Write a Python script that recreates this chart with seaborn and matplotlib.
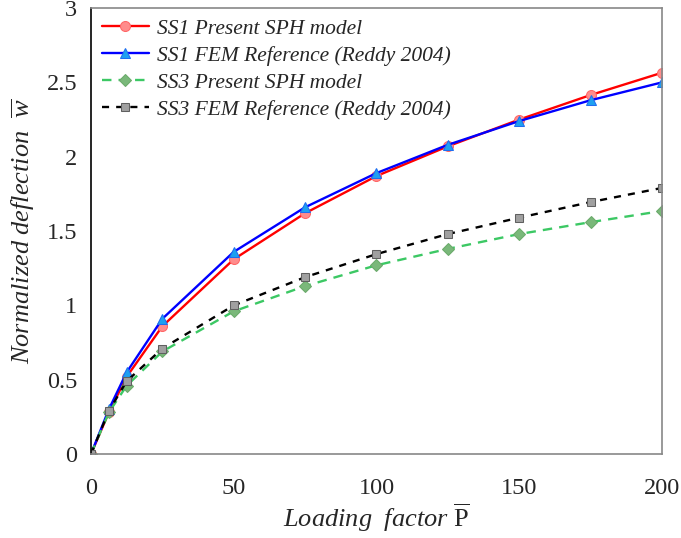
import matplotlib
matplotlib.use("Agg")
import matplotlib.pyplot as plt
import seaborn as sns

load = [0, 6.25, 12.5, 25, 50, 75, 100, 125, 150, 175, 200]
ss1_sph = [0, 0.28, 0.52, 0.86, 1.31, 1.62, 1.87, 2.07, 2.25, 2.415, 2.565]
ss1_fem = [0, 0.30, 0.55, 0.91, 1.36, 1.66, 1.89, 2.08, 2.24, 2.38, 2.50]
ss3_sph = [0, 0.28, 0.46, 0.69, 0.96, 1.13, 1.27, 1.38, 1.48, 1.56, 1.635]
ss3_fem = [0, 0.29, 0.49, 0.71, 1.00, 1.19, 1.345, 1.48, 1.59, 1.695, 1.79]

sns.set_style("white")
plt.rcParams['font.family'] = ['Liberation Serif', 'DejaVu Serif']
plt.rcParams['mathtext.fontset'] = 'custom'
plt.rcParams['mathtext.rm'] = 'Liberation Serif'
plt.rcParams['mathtext.it'] = 'Liberation Serif:italic'

fig = plt.figure(figsize=(6.81, 5.38), dpi=100)
ax = fig.add_axes([0.1336, 0.156, 0.8384, 0.829])

sns.lineplot(x=load, y=ss1_sph, ax=ax, color='red', lw=1.7, marker='o', markersize=7.2,
             markerfacecolor='#ff8c8c', markeredgecolor='#ff6666',
             label='SS1 Present SPH model')
sns.lineplot(x=load, y=ss1_fem, ax=ax, color='blue', lw=1.7, marker='^', markersize=7,
             markerfacecolor='#1ea0f0', markeredgecolor='#1e6ef0',
             label='SS1 FEM Reference (Reddy 2004)')
sns.lineplot(x=load, y=ss3_sph, ax=ax, color='#3cc864', lw=1.7, marker='D', markersize=5.8,
             markerfacecolor='#7ab87a', markeredgecolor='#6aaa6a', linestyle=(0, (4, 3)),
             label='SS3 Present SPH model')
sns.lineplot(x=load, y=ss3_fem, ax=ax, color='black', lw=1.7, marker='s', markersize=6.3,
             markerfacecolor='#a0a0a0', markeredgecolor='#606060', linestyle=(0, (3, 3)),
             label='SS3 FEM Reference (Reddy 2004)')

ax.set_xlim(0, 200)
ax.set_ylim(0, 3)
ax.set_xticks([0, 50, 100, 150, 200])
ax.set_yticks([0, 0.5, 1, 1.5, 2, 2.5, 3])
ax.set_yticklabels(['0', '0.5', '1', '1.5', '2', '2.5', '3'])
ax.tick_params(axis='both', labelsize=17.5, direction='out', length=4, width=1,
               color='#b0b0b0')
ax.tick_params(axis='x', pad=13)
ax.tick_params(axis='y', pad=6)

for s in ['top', 'right', 'bottom']:
    ax.spines[s].set_color('#888888')
    ax.spines[s].set_linewidth(1.2)
ax.spines['left'].set_color('black')
ax.spines['left'].set_linewidth(1.2)

ax.set_xlabel(r'$\mathit{Loading\ \ factor}\ \overline{\mathrm{P}}$', fontsize=19, labelpad=2)
ax.set_ylabel(r'$\mathit{Normalized\ deflection}\ \ \overline{w}$', fontsize=19, labelpad=7)

ax.legend(loc='upper left', frameon=False, prop={'family': 'Liberation Serif', 'style': 'italic', 'size': 15.5},
          handlelength=2.2, labelspacing=0.32, borderaxespad=0.2, handletextpad=0.35,
          borderpad=0.3)

fig.savefig('out.png', dpi=100)
